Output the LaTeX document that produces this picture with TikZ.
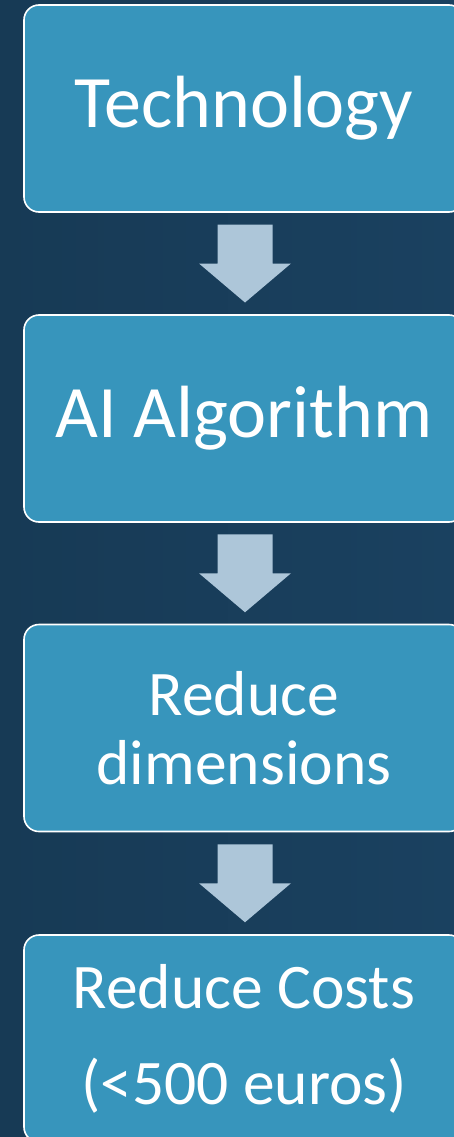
\documentclass[tikz,border=0pt]{standalone}
\usepackage{fontspec}
\setmainfont{Carlito}
\usetikzlibrary{calc}

\definecolor{bgleft}{HTML}{173A55}
\definecolor{bgright}{HTML}{1A4160}
\definecolor{boxblue}{HTML}{3795BC}
\definecolor{arrowblue}{HTML}{ADC6D9}

\tikzset{
  stage/.style={draw=white,line width=1.6pt,fill=boxblue,rounded corners=15pt,
    minimum width=440pt,minimum height=207pt,inner sep=0pt,text=white,align=center},
  flowarrow/.style={fill=arrowblue}
}

\begin{document}
\begin{tikzpicture}[x=1pt,y=-1pt]
\clip (0,0) rectangle (454,1137);
\shade[left color=bgleft,right color=bgright] (0,0) rectangle (454,1137);
% the boxes
\node[stage,font=\fontsize{74}{80}\selectfont] (tech) at (244,108.5) {Technology};
\node[stage,font=\fontsize{74}{80}\selectfont] (algo) at (244,418.5) {AI Algorithm};
\node[stage,font=\fontsize{63.5}{69}\selectfont] (dims) at (244,728) {Reduce\\dimensions};
\node[stage,font=\fontsize{63.5}{96}\selectfont] (cost) at (244,1038.5) {Reduce Costs\\(<500 euros)};
% the arrows
\foreach \a/\b in {tech/algo,algo/dims,dims/cost}{
  \coordinate (m) at ($(\a.south)!0.5!(\b.north)+(1,0)$);
  \fill[flowarrow] ($(m)+(-27.5,-39)$) -- ++(55,0) -- ++(0,39) -- ++(18.5,0)
    -- ($(m)+(0,39)$) -- ($(m)+(-46,0)$) -- ++(18.5,0) -- cycle;
}
\end{tikzpicture}
\end{document}
